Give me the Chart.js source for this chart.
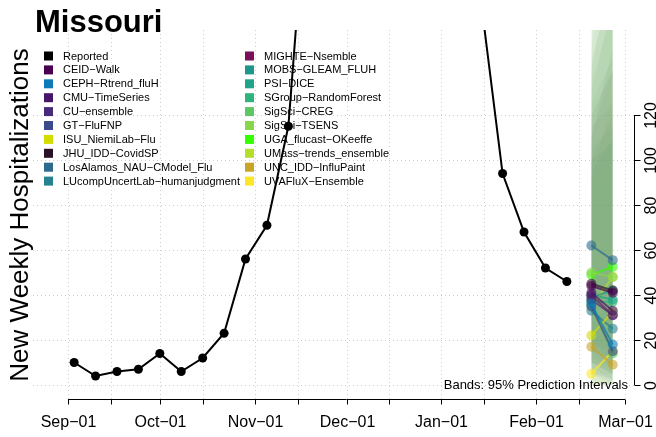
<!DOCTYPE html>
<html>
<head>
<meta charset="utf-8">
<script src="https://cdn.jsdelivr.net/npm/chart.js@4.4.1/dist/chart.umd.min.js"></script>
<style>
html,body{margin:0;padding:0;background:#fff;}
#wrap{width:656px;height:437px;}
</style>
</head>
<body>
<div id="wrap"><canvas id="c" width="656" height="437"></canvas></div>
<script>
// ---------------- data ----------------
const reportedDates = ['2023-09-03','2023-09-10','2023-09-17','2023-09-24','2023-10-01','2023-10-08','2023-10-15','2023-10-22','2023-10-29','2023-11-05','2023-11-12','2023-11-19','2023-11-26','2023-12-03','2023-12-10','2023-12-17','2023-12-24','2023-12-31','2024-01-07','2024-01-14','2024-01-21','2024-01-28','2024-02-04','2024-02-11'];
const reportedValues = [10, 4, 6, 7, 14, 6, 12, 23, 56, 71, 115, 238, 330, 420, 520, 560, 450, 330, 240, 170, 94, 68, 52, 46];

const modelNames = ['CEID\u2212Walk','CEPH\u2212Rtrend_fluH','CMU\u2212TimeSeries','CU\u2212ensemble','GT\u2212FluFNP','ISU_NiemiLab\u2212Flu','JHU_IDD\u2212CovidSP','LosAlamos_NAU\u2212CModel_Flu','LUcompUncertLab\u2212humanjudgment','MIGHTE\u2212Nsemble','MOBS\u2212GLEAM_FLUH','PSI\u2212DICE','SGroup\u2212RandomForest','SigSci\u2212CREG','SigSci\u2212TSENS','UGA_flucast\u2212OKeeffe','UMass\u2212trends_ensemble','UNC_IDD\u2212InfluPaint','UVAFluX\u2212Ensemble'];
const modelColors = ['#4a0050','#0c7bb8','#46166a','#472a7a','#3b4a8a','#d2dc00','#2b1125','#2e6a8e','#26828e','#7b0f5a','#1f968b','#20a386','#2eb37c','#5dc863','#87d54b','#33ff00','#b4de2c','#c8a427','#fde725'];

const forecastDates = ['2024-02-19','2024-02-26'];
const medianWeek1 = [44, 36, 41, 38, 35, 22, 45, 62, 33, 40, 39, 40, 37, 37, 50, 49, 35, 17, 5];
const medianWeek2 = [41, 18, 33, 31, 15, 32.5, 42, 55.5, 25, 31, 42, 38, 37, 14, 48, 52.5, 48, 9, 15];
const lowerWeek1 = [5, 8, 10, 12, 5, 0, 15, 20, 5, 10, 15, 18, 10, 0, 10, 20, 5, 2, 0];
const lowerWeek2 = [3, 2, 5, 8, 0, 0, 10, 10, 2, 5, 12, 15, 8, 0, 5, 18, 5, 0, 0];
const upperWeek1 = [120, 95, 110, 100, 130, 90, 140, 150, 160, 115, 105, 100, 125, 170, 135, 90, 145, 110, 200];
const upperWeek2 = [140, 110, 150, 120, 170, 130, 190, 200, 230, 125, 115, 108, 145, 260, 165, 100, 175, 140, 320];

const xTickDates = ['2023-09-01','2023-09-15','2023-10-01','2023-10-15','2023-11-01','2023-11-15','2023-12-01','2023-12-15','2024-01-01','2024-01-15','2024-02-01','2024-02-15','2024-03-01'];
const xTickLabels = ['Sep\u221201','','Oct\u221201','','Nov\u221201','','Dec\u221201','','Jan\u221201','','Feb\u221201','','Mar\u221201'];
const yTicks = [0, 20, 40, 60, 80, 100, 120];

const titleText = 'Missouri';
const yTitle = 'New Weekly Hospitalizations';
const bandNote = 'Bands: 95% Prediction Intervals';

// ---------------- helpers ----------------
const DAY0 = Date.UTC(2023, 8, 1);
const toDay = s => (Date.parse(s + 'T00:00:00Z') - DAY0) / 86400000;
function hexRgb(hex) {
  const n = parseInt(hex.slice(1), 16);
  return [(n >> 16) & 255, (n >> 8) & 255, n & 255];
}
function rgba(hex, a) {
  const c = hexRgb(hex);
  return 'rgba(' + c[0] + ',' + c[1] + ',' + c[2] + ',' + a + ')';
}
function bandColor(hex, a) {
  const c = hexRgb(hex), g = [122, 184, 108], t = 0.72;
  const m = c.map((v, i) => Math.round(v * (1 - t) + g[i] * t));
  return 'rgba(' + m[0] + ',' + m[1] + ',' + m[2] + ',' + a + ')';
}

// ---------------- datasets ----------------
const datasets = [];
datasets.push({
  label: 'Reported',
  data: reportedDates.map((d, i) => ({x: toDay(d), y: reportedValues[i]})),
  borderColor: '#000', backgroundColor: '#000', borderWidth: 2,
  pointRadius: 4.5, pointBackgroundColor: '#000', pointBorderWidth: 0,
  fill: false, order: 0
});
modelNames.forEach((name, i) => {
  datasets.push({
    label: name + ' lower',
    data: forecastDates.map((d, k) => ({x: toDay(d), y: k ? lowerWeek2[i] : lowerWeek1[i]})),
    borderWidth: 0, pointRadius: 0, fill: false, order: 10, borderColor: 'rgba(0,0,0,0)'
  });
  datasets.push({
    label: name + ' upper',
    data: forecastDates.map((d, k) => ({x: toDay(d), y: k ? upperWeek2[i] : upperWeek1[i]})),
    borderWidth: 0, pointRadius: 0, fill: '-1', order: 10, borderColor: 'rgba(0,0,0,0)',
    backgroundColor: bandColor(modelColors[i], 0.085)
  });
});
modelNames.forEach((name, i) => {
  datasets.push({
    label: name,
    data: forecastDates.map((d, k) => ({x: toDay(d), y: k ? medianWeek2[i] : medianWeek1[i]})),
    borderColor: rgba(modelColors[i], 0.7), backgroundColor: rgba(modelColors[i], 0.6),
    borderWidth: 2, pointRadius: 5, pointBackgroundColor: rgba(modelColors[i], 0.6),
    pointBorderWidth: 0, fill: false, order: 5
  });
});

const FONT = '"Liberation Sans", Arial, Helvetica, sans-serif';

const decor = {
  id: 'decor',
  beforeDatasetsDraw(chart) {
    const ctx = chart.ctx, a = chart.chartArea, xs = chart.scales.x, ys = chart.scales.y;
    ctx.save();
    ctx.strokeStyle = '#cfcfcf';
    ctx.lineWidth = 1;
    ctx.setLineDash([1, 3]);
    xTickDates.forEach(d => {
      const px = Math.round(xs.getPixelForValue(toDay(d))) + 0.5;
      ctx.beginPath(); ctx.moveTo(px, a.top); ctx.lineTo(px, a.bottom); ctx.stroke();
    });
    yTicks.forEach(v => {
      const py = Math.round(ys.getPixelForValue(v)) + 0.5;
      ctx.beginPath(); ctx.moveTo(a.left, py); ctx.lineTo(a.right, py); ctx.stroke();
    });
    ctx.setLineDash([]);
    // legend
    const items = [{name: 'Reported', color: '#000'}].concat(modelNames.map((n, i) => ({name: n, color: modelColors[i]})));
    ctx.font = '11px ' + FONT;
    ctx.textBaseline = 'middle';
    ctx.textAlign = 'left';
    items.forEach((it, i) => {
      const col = i < 10 ? 0 : 1;
      const row = i < 10 ? i : i - 10;
      const sx = col ? 245 : 44, tx = col ? 264 : 63;
      const cy = 56 + row * 13.9;
      ctx.fillStyle = it.color;
      ctx.fillRect(sx, cy - 4.5, 9, 9);
      ctx.fillStyle = '#000';
      ctx.fillText(it.name, tx, cy + 0.5);
    });
    ctx.restore();
  },
  afterDatasetsDraw(chart) {
    const ctx = chart.ctx, a = chart.chartArea, xs = chart.scales.x, ys = chart.scales.y;
    ctx.save();
    ctx.strokeStyle = '#000';
    ctx.lineWidth = 1;
    // x axis
    const x0 = xs.getPixelForValue(toDay(xTickDates[0]));
    const x1 = xs.getPixelForValue(toDay(xTickDates[xTickDates.length - 1]));
    const ay = Math.round(a.bottom) + 0.5;
    ctx.beginPath(); ctx.moveTo(x0, ay); ctx.lineTo(x1, ay); ctx.stroke();
    ctx.font = '16px ' + FONT;
    ctx.fillStyle = '#000';
    ctx.textAlign = 'center';
    ctx.textBaseline = 'alphabetic';
    xTickDates.forEach((d, i) => {
      const px = Math.round(xs.getPixelForValue(toDay(d))) + 0.5;
      ctx.beginPath(); ctx.moveTo(px, ay); ctx.lineTo(px, ay + 5); ctx.stroke();
      if (xTickLabels[i]) ctx.fillText(xTickLabels[i], px, 427);
    });
    // y axis (right)
    const axx = Math.round(a.right) + 0.5;
    const y0 = ys.getPixelForValue(yTicks[0]), y1 = ys.getPixelForValue(yTicks[yTicks.length - 1]);
    ctx.beginPath(); ctx.moveTo(axx, y0); ctx.lineTo(axx, y1); ctx.stroke();
    yTicks.forEach(v => {
      const py = Math.round(ys.getPixelForValue(v)) + 0.5;
      ctx.beginPath(); ctx.moveTo(axx, py); ctx.lineTo(axx + 6, py); ctx.stroke();
      ctx.save();
      ctx.translate(656, py);
      ctx.rotate(-Math.PI / 2);
      ctx.textAlign = 'center';
      ctx.textBaseline = 'alphabetic';
      ctx.fillText(String(v), 0, 0);
      ctx.restore();
    });
    // y title
    ctx.save();
    ctx.translate(28, 215);
    ctx.rotate(-Math.PI / 2);
    ctx.font = '26px ' + FONT;
    ctx.textAlign = 'center';
    ctx.textBaseline = 'alphabetic';
    ctx.fillText(yTitle, 0, 0);
    ctx.restore();
    // title
    ctx.font = 'bold 31px ' + FONT;
    ctx.textAlign = 'left';
    ctx.textBaseline = 'alphabetic';
    ctx.fillText(titleText, 35, 32);
    // band note
    ctx.font = '13px ' + FONT;
    ctx.textAlign = 'right';
    ctx.fillText(bandNote, 628, 389);
    ctx.restore();
  }
};

new Chart(document.getElementById('c'), {
  type: 'line',
  data: {datasets: datasets},
  options: {
    responsive: false,
    devicePixelRatio: 1,
    animation: false,
    layout: {padding: {left: 33, right: 22, top: 30, bottom: 38}},
    plugins: {legend: {display: false}, tooltip: {enabled: false}},
    scales: {
      x: {type: 'linear', display: false, min: -11.44, max: 184.94},
      y: {type: 'linear', display: false, min: -6.22, max: 157.78}
    }
  },
  plugins: [decor]
});
</script>
</body>
</html>
